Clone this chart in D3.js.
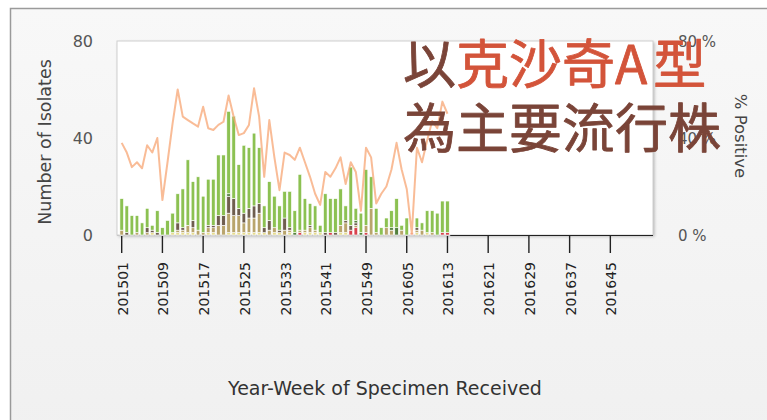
<!DOCTYPE html>
<html>
<head>
<meta charset="utf-8">
<script src="https://cdn.jsdelivr.net/npm/d3@7"></script>
<style>
  body { margin: 0; background: #fff; }
  svg { display: block; }
</style>
</head>
<body>
<div id="chart"></div>
<script>
// week categories 201501 .. 201652
let weeks = [];
[2015, 2016].forEach(y => {
  for (let w = 1; w <= 52; w++) weeks.push(`${y}${String(w).padStart(2, "0")}`);
});
let tickWeeks = weeks.filter((d, i) => i % 8 == 0);

// isolates per week, by type (only 201501-201613 reported)
let red       = [0,0,0,0,0,0,0,0,0,0, 0,0,0,0,0,0,0,0,0,0, 0,0,0,0,0,0,0,0,0,0, 0,0,0,0,0,1,0,0,0,0, 0,1,0,0,0,2,3,0,1,0, 0,0,0,0,0,0,0,0,0,0, 0,0,0,1,1];
let yellow    = [0,0,0,0,0,0,1,0,0,0, 1,1,1,1,1,0,0,1,1,0, 0,1,1,1,1,1,1,1,1,0, 1,1,0,1,0,0,1,1,1,1, 0,0,0,1,1,0,0,0,0,0, 0,0,0,0,0,0,0,0,1,0, 1,0,0,0,0];
let tan       = [2,0,0,1,0,1,0,0,0,0, 0,1,1,3,2,2,1,2,2,4, 4,8,7,7,4,6,6,8,0,2, 2,0,2,1,0,1,1,2,1,0, 0,0,0,3,4,0,1,0,3,11, 1,0,3,2,0,2,0,0,1,2, 0,1,0,0,0];
let brown     = [0,1,0,0,0,2,1,1,0,0, 0,3,1,0,3,0,0,1,1,4, 4,7,7,3,4,4,5,4,2,4, 0,1,5,1,0,0,0,1,0,0, 1,0,1,0,1,2,1,0,0,0, 0,0,0,0,0,0,0,0,1,0, 0,0,0,0,0];
let pink      = [0,0,0,0,0,0,0,0,0,0, 0,0,0,0,0,0,0,0,0,0, 0,0,0,0,0,0,0,0,0,0, 0,0,0,0,0,0,0,0,0,0, 0,0,0,0,0,0,0,0,0,0, 0,0,0,0,0,0,0,1,0,0, 0,0,0,0,0];
let darkgreen = [0,0,0,0,0,0,0,0,0,0, 0,0,0,0,0,0,0,0,0,0, 0,1,0,0,0,0,0,0,0,0, 0,0,0,0,1,0,0,0,0,0, 0,0,0,0,0,0,1,1,0,0, 0,0,0,1,3,0,0,0,0,0, 0,0,0,0,0];
let green     = [13,11,8,7,5,8,2,9,3,6, 8,12,16,27,16,22,15,19,19,25, 25,34,34,18,28,25,30,23,9,16, 13,10,11,15,9,23,13,9,10,3, 16,14,14,15,6,24,5,8,23,13, 10,3,4,7,12,2,7,0,4,3, 9,9,9,13,13];

// % positive
let positive = [38,34,28,30,27.5,37,34,40,14.4,30, 46,60,48.8,47.4,46,44.7,52.9,44,43.3,45.4,
                46.7,57.5,48.8,41.2,42,45.4,60.5,48.8,24,47.4, 32,18.5,34,33,31,36,30,24,17,12.4,
                26,24,27.5,32,21,30,26,10,36,32, 13,17,20,27,38,27,19,0.7,36,30,
                39,47,44,55,50];

let seriesNames = ["red", "yellow", "tan", "brown", "pink", "darkgreen", "green"];
let seriesData = [red, yellow, tan, brown, pink, darkgreen, green];
let seriesColors = ["#d8414d", "#e5dc8f", "#b9a56c", "#6f5e4e", "#f5b3a0", "#527f3c", "#8cc152"];

const W = 767, H = 420;
const plot = {left: 117, top: 41, right: 653, bottom: 235};

let svg = d3.select("#chart").append("svg")
  .attr("width", W).attr("height", H);

let defs = svg.append("defs");
let grad = defs.append("linearGradient").attr("id", "bg").attr("x1", 0).attr("y1", 0).attr("x2", 0).attr("y2", 1);
grad.append("stop").attr("offset", "0%").attr("stop-color", "#f8f8f8");
grad.append("stop").attr("offset", "100%").attr("stop-color", "#efefef");
defs.append("filter").attr("id", "shadow").attr("x", "-5%").attr("y", "-5%").attr("width", "110%").attr("height", "110%")
  .append("feGaussianBlur").attr("stdDeviation", 1.5);

// outer frame
svg.append("rect")
  .attr("x", 10.5).attr("y", 8.5).attr("width", 800).attr("height", 500)
  .attr("fill", "url(#bg)").attr("stroke", "#9a9a9a").attr("stroke-width", 1.5);

// plot background with shadow
svg.append("rect")
  .attr("x", plot.left + 1.5).attr("y", plot.top + 1.5)
  .attr("width", plot.right - plot.left).attr("height", plot.bottom - plot.top)
  .attr("fill", "#b5b5b5").attr("filter", "url(#shadow)");
svg.append("rect")
  .attr("x", plot.left).attr("y", plot.top)
  .attr("width", plot.right - plot.left).attr("height", plot.bottom - plot.top)
  .attr("fill", "#fff").attr("stroke", "#cfcfcf");

let step = 5.09;
let x = d3.scaleBand()
  .domain(weeks)
  .range([121.7 - step / 2, 121.7 - step / 2 + step * weeks.length])
  .paddingInner(0.3).paddingOuter(0.15);

let y = d3.scaleLinear().domain([0, 80]).range([plot.bottom, plot.top]);
let yPct = d3.scaleLinear().domain([0, 80]).range([plot.bottom, plot.top]);

// stack table
let table = green.map((g, i) => {
  let row = {week: weeks[i]};
  seriesNames.forEach((s, k) => row[s] = seriesData[k][i]);
  return row;
});
let stack = d3.stack().keys(seriesNames)(table);

// x axis line: light under data, dark beyond
let lastX = x(weeks[green.length - 1]) + x.bandwidth() + 1;
svg.append("line").attr("x1", plot.left).attr("x2", lastX)
  .attr("y1", plot.bottom + 0.5).attr("y2", plot.bottom + 0.5)
  .attr("stroke", "#c8c8c8");
svg.append("line").attr("x1", lastX).attr("x2", plot.right)
  .attr("y1", plot.bottom + 0.5).attr("y2", plot.bottom + 0.5)
  .attr("stroke", "#222").attr("stroke-width", 1.2);

// bars
svg.append("g")
  .selectAll("g")
  .data(stack)
  .enter()
  .append("g")
  .attr("fill", (d, i) => seriesColors[i])
  .selectAll("rect")
  .data(d => d.filter(p => p[1] - p[0] > 0))
  .enter()
  .append("rect")
  .attr("x", d => x(d.data.week))
  .attr("y", d => y(d[1]))
  .attr("width", x.bandwidth())
  .attr("height", d => y(d[0]) - y(d[1]))
  .attr("stroke", "#fff")
  .attr("stroke-width", 0.6);

// % positive line
let line = d3.line()
  .x((d, i) => x(weeks[i]) + x.bandwidth() / 2)
  .y(d => yPct(d));
svg.append("path")
  .datum(positive)
  .attr("d", line)
  .attr("fill", "none")
  .attr("stroke", "#f7a574")
  .attr("stroke-opacity", 0.75)
  .attr("stroke-width", 2)
  .attr("stroke-linejoin", "round");

// x ticks + labels
let xt = svg.append("g");
xt.selectAll("line")
  .data(tickWeeks)
  .enter()
  .append("line")
  .attr("x1", d => x(d) + x.bandwidth() / 2)
  .attr("x2", d => x(d) + x.bandwidth() / 2)
  .attr("y1", plot.bottom + 1).attr("y2", plot.bottom + 18)
  .attr("stroke", "#222").attr("stroke-width", 1.4);
xt.selectAll("text")
  .data(tickWeeks)
  .enter()
  .append("text")
  .attr("transform", d => `translate(${x(d) + x.bandwidth() / 2 + 6}, 262) rotate(-90)`)
  .style("text-anchor", "end")
  .style("font-family", "DejaVu Sans")
  .style("font-size", "14px")
  .attr("fill", "#222")
  .text(d => d);

// left axis labels
let yTicks = [0, 40, 80];
svg.append("g").selectAll("text")
  .data(yTicks)
  .enter()
  .append("text")
  .attr("x", 93).attr("y", d => y(d) + 6)
  .style("text-anchor", "end")
  .style("font-family", "DejaVu Sans")
  .style("font-size", "16px")
  .attr("fill", "#555")
  .text(d => d);

// right axis labels
svg.append("g").selectAll("text")
  .data(yTicks)
  .enter()
  .append("text")
  .attr("x", 678).attr("y", d => yPct(d) + 6)
  .style("text-anchor", "start")
  .style("font-family", "DejaVu Sans")
  .style("font-size", "15px")
  .attr("fill", "#555")
  .text(d => d + " %");

// axis titles
svg.append("text")
  .attr("transform", `translate(51, 142) rotate(-90)`)
  .style("text-anchor", "middle")
  .style("font-family", "DejaVu Sans")
  .style("font-size", "17.5px")
  .attr("fill", "#444")
  .text("Number of Isolates");

svg.append("text")
  .attr("transform", `translate(735, 136) rotate(90)`)
  .style("text-anchor", "middle")
  .style("font-family", "DejaVu Sans")
  .style("font-size", "16.5px")
  .attr("fill", "#444")
  .text("% Positive");

svg.append("text")
  .attr("x", (plot.left + plot.right) / 2).attr("y", 395)
  .style("text-anchor", "middle")
  .style("font-family", "DejaVu Sans")
  .style("font-size", "19px")
  .attr("fill", "#333")
  .text("Year-Week of Specimen Received");

// big overlay caption
let cap = svg.append("g")
  .style("font-family", "'Noto Sans CJK TC', 'Noto Sans CJK SC', sans-serif")
  .style("font-size", "53px")
  .style("font-weight", 400)
  .attr("stroke-width", 0.8)
  .attr("stroke-linejoin", "round");
let l1 = cap.append("text").attr("x", 403).attr("y", 84);
l1.append("tspan").attr("fill", "#7a4438").attr("stroke", "#7a4438").text("以");
l1.append("tspan").attr("fill", "#d3543a").attr("stroke", "#d3543a").text("克沙奇A");
l1.append("tspan").attr("fill", "#d3543a").attr("stroke", "#d3543a").attr("dx", 6).text("型");
cap.append("text").attr("x", 403).attr("y", 148)
  .attr("fill", "#7a4438").attr("stroke", "#7a4438").text("為主要流行株");
</script>
</body>
</html>
